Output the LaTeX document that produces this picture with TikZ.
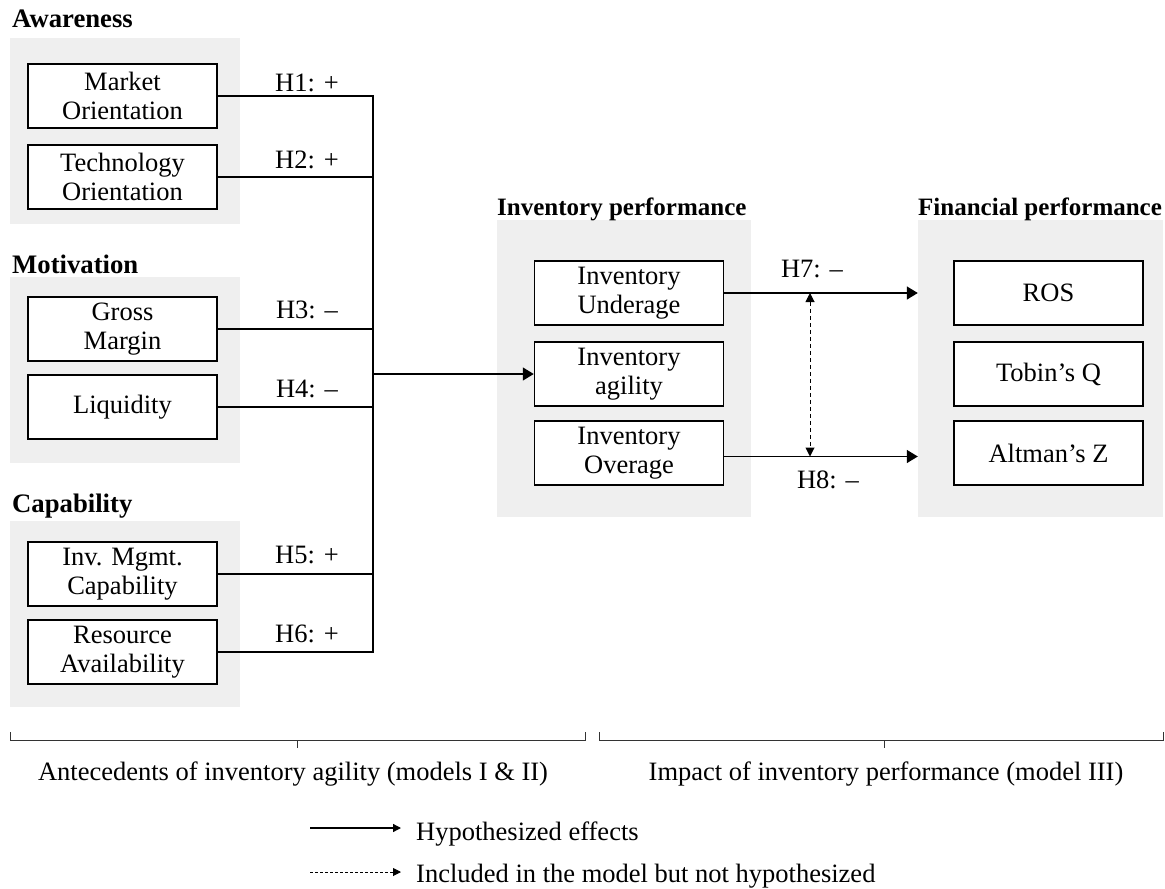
\documentclass[tikz,border=0pt]{standalone}
\usepackage{fontspec}
\setmainfont{Liberation Serif}
\usetikzlibrary{arrows.meta}
\definecolor{grpgray}{HTML}{EFEFEF}
\begin{document}
\begin{tikzpicture}[x=1pt,y=-1pt,
  txt/.style={font=\fontsize{26.5}{29}\selectfont, inner sep=0pt},
  hd/.style={font=\fontsize{26.7}{29}\selectfont\bfseries, inner sep=0pt, anchor=base west},
  hdr/.style={font=\fontsize{25}{29}\selectfont\bfseries, inner sep=0pt, anchor=base west},
  grp/.style={fill=grpgray, draw=none, inner sep=0pt},
  vbox/.style={draw, line width=1.5pt, fill=white, minimum width=189pt, minimum height=64pt,
    align=center, inner sep=0pt, font=\fontsize{26.5}{29}\selectfont},
  hl/.style={txt, anchor=base},
  ln/.style={line width=1.4pt},
  arr/.style={line width=1.4pt, -{Triangle[length=11pt,width=13pt]}},
  darr/.style={line width=1pt, dash pattern=on 4pt off 3pt, {Triangle[length=9pt,width=9pt]}-{Triangle[length=9pt,width=9pt]}},
  larr/.style={line width=1.3pt, -{Triangle[length=8pt,width=8pt]}},
  ldarr/.style={line width=1pt, dash pattern=on 3pt off 2pt, -{Triangle[length=8pt,width=8pt]}},
  brk/.style={line width=0.9pt, black!80}
]
\useasboundingbox (0,0) rectangle (1165,889);

% group backgrounds
\node[grp, minimum width=230pt, minimum height=186pt] (awbg) at (125,131) {};
\node[grp, minimum width=230pt, minimum height=186pt] (mobg) at (125,370) {};
\node[grp, minimum width=230pt, minimum height=186pt] (cabg) at (125,614) {};
\node[grp, minimum width=254pt, minimum height=297pt] (ipbg) at (624,368.5) {};
\node[grp, minimum width=245pt, minimum height=297pt] (fpbg) at (1040.5,368.5) {};

% headings
\node[hd] (hAw) at (12,27) {Awareness};
\node[hd] (hMo) at (12,273) {Motivation};
\node[hd] (hCa) at (12,512) {Capability};
\node[hdr] (hIp) at (497,215) {Inventory performance};
\node[hdr] (hFp) at (918,215) {Financial performance};

% boxes
\node[vbox] (mo) at (122.5,96) {Market\\Orientation};
\node[vbox] (tor) at (122.5,177) {Technology\\Orientation};
\node[vbox] (gm) at (122.5,329) {Gross\\Margin};
\node[vbox] (li) at (122.5,407) {Liquidity};
\node[vbox] (im) at (122.5,574) {Inv. Mgmt.\\Capability};
\node[vbox] (ra) at (122.5,652) {Resource\\Availability};

\node[vbox] (iu) at (629,293) {Inventory\\Underage};
\node[vbox] (ia) at (629,374) {Inventory\\agility};
\node[vbox] (io) at (629,453) {Inventory\\Overage};

\node[vbox] (ros) at (1048.5,293) {ROS};
\node[vbox] (tq) at (1048.5,374) {Tobin’s Q};
\node[vbox] (az) at (1048.5,453) {Altman’s Z};

% bus
\coordinate (bus) at (373,0);
\draw[ln] (mo.east) -- (mo.east -| bus) -- (ra.east -| bus) -- (ra.east);
\draw[ln] (tor.east) -- (tor.east -| bus);
\draw[ln] (gm.east) -- (gm.east -| bus);
\draw[ln] (li.east) -- (li.east -| bus);
\draw[ln] (im.east) -- (im.east -| bus);
\draw[arr] (ia.west -| bus) -- (ia.west);

% hypothesis labels
\node[hl] (h1) at (307,91) {H1: +};
\node[hl] (h2) at (307,168) {H2: +};
\node[hl] (h3) at (307,318) {H3: –};
\node[hl] (h4) at (307,397) {H4: –};
\node[hl] (h5) at (307,563) {H5: +};
\node[hl] (h6) at (307,642) {H6: +};

% right side arrows
\coordinate (io8) at ([yshift=-3.5pt]io.east);
\draw[arr] (iu.east) -- (iu.east -| fpbg.west);
\draw[arr] (io8) -- (io8 -| fpbg.west);
\coordinate (dx) at (810,0);
\draw[darr] (iu.east -| dx) -- (io8 -| dx);
\node[hl] (h7) at (812,277) {H7: –};
\node[hl] (h8) at (828,488) {H8: –};

% brackets
\coordinate (b1l) at (10,740);
\coordinate (b1r) at (585,740);
\coordinate (b1m) at (297,740);
\coordinate (b2l) at (599,740);
\coordinate (b2r) at (1163,740);
\coordinate (b2m) at (884,740);
\draw[brk] ([yshift=8pt]b1l) -- (b1l) -- (b1r) -- ([yshift=8pt]b1r);
\draw[brk] (b1m) -- ([yshift=-8pt]b1m);
\draw[brk] ([yshift=8pt]b2l) -- (b2l) -- (b2r) -- ([yshift=8pt]b2r);
\draw[brk] (b2m) -- ([yshift=-8pt]b2m);
\node[hl] (lab1) at (293,780) {Antecedents of inventory agility (models I \& II)};
\node[hl] (lab2) at (886,780) {Impact of inventory performance (model III)};

% legend
\coordinate (l1a) at (310,828);
\coordinate (l1b) at (401,828);
\coordinate (l2a) at (310,872);
\coordinate (l2b) at (401,872);
\draw[larr] (l1a) -- (l1b);
\draw[ldarr] (l2a) -- (l2b);
\node[txt, anchor=base west] (lt1) at (416,840) {Hypothesized effects};
\node[txt, anchor=base west] (lt2) at (416,882) {Included in the model but not hypothesized};
\end{tikzpicture}
\end{document}
